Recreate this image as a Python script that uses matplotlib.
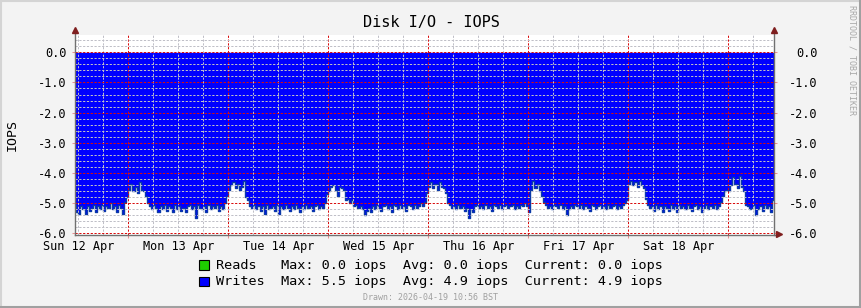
import numpy as np
import matplotlib
matplotlib.use("Agg")
import matplotlib.pyplot as plt
from matplotlib.ticker import MultipleLocator, FuncFormatter, NullFormatter
from matplotlib.patches import Rectangle

# writes (negated, iops), half-hour samples, hours counted from Sun 12 Apr 00:00
start_hour = 11.0
step_hours = 0.5

sun12 = [-5.05, -5.3, -5.35, -5.1, -5.2, -5.35, -5.1, -5.25,
         -5.15, -5.05, -5.3, -5.1, -5.2, -5.05, -5.25, -5.1,
         -5.15, -5.0, -5.2, -5.1, -5.3, -5.05, -5.15, -5.35,
         -4.95, -4.8]
mon13 = [-4.55, -4.35, -4.6, -4.45, -4.65, -4.3, -4.55, -4.6,
         -4.75, -5.0, -5.1, -5.2, -5.05, -5.15, -5.3, -5.1,
         -5.2, -5.05, -5.25, -5.1, -5.15, -5.3, -5.05, -5.2,
         -5.1, -5.25, -5.15, -5.3, -5.1, -5.05, -5.2, -5.1,
         -5.5, -5.05, -5.15, -5.2, -5.1, -5.3, -5.05, -5.2,
         -5.1, -5.15, -5.05, -5.25, -5.1, -5.2, -5.0, -4.75]
tue14 = [-4.55, -4.4, -4.3, -4.5, -4.35, -4.55, -4.45, -4.25,
         -4.8, -4.9, -5.1, -5.15, -5.05, -5.2, -5.1, -5.25,
         -5.1, -5.35, -5.05, -5.2, -5.15, -5.1, -5.25, -5.05,
         -5.35, -5.1, -5.2, -5.05, -5.15, -5.25, -5.1, -5.2,
         -5.05, -5.15, -5.3, -5.1, -5.2, -5.05, -5.15, -5.1,
         -5.25, -5.1, -5.05, -5.2, -5.1, -5.15, -5.0, -4.7]
wed15 = [-4.6, -4.45, -4.4, -4.55, -4.75, -4.45, -4.5, -4.55,
         -4.9, -4.85, -5.0, -4.9, -5.1, -5.05, -5.15, -5.1,
         -5.2, -5.4, -5.25, -5.15, -5.3, -5.1, -5.2, -5.05,
         -5.15, -5.25, -5.1, -5.05, -5.2, -5.1, -5.3, -5.05,
         -5.1, -5.2, -5.05, -5.15, -5.1, -5.25, -5.05, -5.1,
         -5.2, -5.05, -5.15, -5.1, -5.0, -5.1, -4.95, -4.65]
thu16 = [-4.45, -4.3, -4.5, -4.35, -4.55, -4.3, -4.45, -4.5,
         -4.65, -5.0, -5.05, -5.15, -5.1, -5.2, -5.05, -5.15,
         -5.1, -5.25, -5.15, -5.5, -5.2, -5.3, -5.1, -5.05,
         -5.15, -5.1, -5.2, -5.05, -5.15, -5.1, -5.25, -5.05,
         -5.1, -5.15, -5.05, -5.2, -5.1, -5.05, -5.15, -5.1,
         -5.05, -5.2, -5.1, -5.15, -5.05, -5.1, -5.0, -5.1]
fri17 = [-5.3, -4.55, -4.25, -4.5, -4.35, -4.6, -4.75, -4.95,
         -5.05, -5.15, -5.1, -5.2, -5.05, -5.1, -5.15, -5.05,
         -5.2, -5.1, -5.4, -5.2, -5.1, -5.15, -5.05, -5.1,
         -5.15, -5.05, -5.2, -5.1, -5.15, -5.25, -5.05, -5.1,
         -5.2, -5.1, -5.05, -5.15, -5.1, -5.2, -5.05, -5.15,
         -5.1, -5.05, -5.2, -5.1, -5.15, -5.05, -5.0, -4.9]
sat18 = [-4.35, -4.25, -4.4, -4.3, -4.45, -4.25, -4.4, -4.5,
         -4.85, -5.05, -5.15, -5.1, -5.25, -5.05, -5.2, -5.1,
         -5.3, -5.1, -5.15, -5.25, -5.05, -5.2, -5.1, -5.3,
         -5.05, -5.15, -5.1, -5.2, -5.05, -5.15, -5.25, -5.1,
         -5.05, -5.2, -5.1, -5.3, -5.15, -5.05, -5.2, -5.1,
         -5.15, -5.05, -5.2, -5.1, -4.95, -4.75, -4.6, -4.55]
sun19 = [-4.6, -4.4, -4.15, -4.35, -4.5, -4.1, -4.45, -4.6,
         -5.05, -5.1, -5.2, -5.15, -5.05, -5.4, -5.2, -5.1,
         -5.25, -5.05, -5.15, -5.1, -5.3, -4.9]

day_labels = ["Sun 12 Apr", "Mon 13 Apr", "Tue 14 Apr", "Wed 15 Apr",
              "Thu 16 Apr", "Fri 17 Apr", "Sat 18 Apr", "Sun 19 Apr"]
y_ticks = [0.0, -1.0, -2.0, -3.0, -4.0, -5.0, -6.0]

legend_rows = [
    ("Reads", "#1ecc00", "Reads   Max: 0.0 iops  Avg: 0.0 iops  Current: 0.0 iops"),
    ("Writes", "#0000ff", "Writes  Max: 5.5 iops  Avg: 4.9 iops  Current: 4.9 iops"),
]

writes = np.array(sun12 + mon13 + tue14 + wed15 + thu16 + fri17 + sat18 + sun19)
hours = start_hour + step_hours * np.arange(len(writes) + 1)
vals = np.append(writes, writes[-1])

mono = "DejaVu Sans Mono"
plt.rcParams["font.family"] = mono

W, H = 862, 308
fig = plt.figure(figsize=(W / 100, H / 100), dpi=100, facecolor="#f3f3f3")

# frame shading like rrdtool
fig.add_artist(plt.Line2D([0, 1], [1 - 1 / H, 1 - 1 / H], color="#d4d4d4", lw=1.5, transform=fig.transFigure))
fig.add_artist(plt.Line2D([1 / W, 1 / W], [0, 1], color="#d4d4d4", lw=1.5, transform=fig.transFigure))
fig.add_artist(plt.Line2D([0, 1], [1.5 / H, 1.5 / H], color="#a0a0a0", lw=2.2, transform=fig.transFigure))
fig.add_artist(plt.Line2D([1 - 1.5 / W, 1 - 1.5 / W], [0, 1], color="#a0a0a0", lw=2.2, transform=fig.transFigure))

ax_l, ax_r, ax_t, ax_b = 75, 774, 35, 235.3
ax = fig.add_axes([ax_l / W, 1 - ax_b / H, (ax_r - ax_l) / W, (ax_b - ax_t) / H])
ax.set_facecolor("white")

ax.fill_between(hours, 0, vals, step="post", color="#0000ff", linewidth=0, zorder=1)
ax.step(hours, vals, where="post", color="#0b3aa8", linewidth=1.0, zorder=1.5)

ax.set_xlim(11.2, 179.0)
ax.set_ylim(-6.066, 0.573)

ax.xaxis.set_major_locator(MultipleLocator(24))
ax.xaxis.set_minor_locator(MultipleLocator(6))
ax.xaxis.set_major_formatter(NullFormatter())


def day_fmt(v, pos):
    h = int(round(v))
    if h % 24 == 12 and 0 <= h // 24 < len(day_labels):
        return day_labels[h // 24]
    return ""


ax.xaxis.set_minor_formatter(FuncFormatter(day_fmt))
ax.yaxis.set_major_locator(MultipleLocator(1.0))
ax.yaxis.set_minor_locator(MultipleLocator(0.2))
ax.yaxis.set_major_formatter(FuncFormatter(lambda v, p: f"{v + 0.0:.1f}"))

red = (0.85, 0.05, 0.05, 0.42)
grey = (0.75, 0.75, 0.78, 0.5)
dash = (0, (2.2, 1.6))
ax.set_axisbelow(False)
ax.grid(which="major", color=red, linestyle=dash, linewidth=0.72)
ax.grid(which="minor", color=grey, linestyle=dash, linewidth=0.72)

ax.tick_params(axis="x", which="major", length=2, color=red, width=0.75)
ax.tick_params(axis="x", which="minor", length=0, labelsize=8.6, pad=3.5)
ax.tick_params(axis="y", which="major", length=2, color=red, width=0.75, labelsize=8.6, pad=4.3)
ax.tick_params(axis="y", which="minor", length=0)

for s in ax.spines.values():
    s.set_visible(False)

# right axis labels
ax2 = ax.twinx()
ax2.set_ylim(ax.get_ylim())
ax2.set_yticks(y_ticks)
ax2.yaxis.set_major_formatter(FuncFormatter(lambda v, p: f"{v + 0.0:.1f}"))
ax2.tick_params(axis="y", length=2, color=red, width=0.75, labelsize=8.6, pad=29.5)
plt.setp(ax2.get_yticklabels(), ha="right")
for s in ax2.spines.values():
    s.set_visible(False)

# axis lines with arrows
axis_col = "#707070"
arrow_col = "#7f1f1f"
hgt = ax_b - ax_t
wid = ax_r - ax_l
ax.plot([0, 0], [0, 1 + 3 / hgt], color=axis_col, lw=1, transform=ax.transAxes, clip_on=False, zorder=5)
ax.plot([1, 1], [0, 1 + 3 / hgt], color=axis_col, lw=1, transform=ax.transAxes, clip_on=False, zorder=5)
ax.plot([0, 1 + 4 / wid], [0, 0], color=axis_col, lw=1, transform=ax.transAxes, clip_on=False, zorder=5)
for px, py, m in [(0, 1 + 4.5 / hgt, "^"), (1, 1 + 4.5 / hgt, "^"), (1 + 5 / wid, 0.005, ">")]:
    ax.plot([px], [py], marker=m, ms=4.5, color=arrow_col, mec=arrow_col,
            transform=ax.transAxes, clip_on=False, zorder=6)

fig.text(431 / W, 1 - 22 / H, "Disk I/O - IOPS", ha="center", va="center", fontsize=11)
fig.text(12 / W, 1 - 135 / H, "IOPS", ha="center", va="center", rotation=90, fontsize=9.6)
fig.text(852.5 / W, 1 - 60 / H, "RRDTOOL / TOBI OETIKER", ha="center", va="center",
         rotation=270, fontsize=6, color="#a8a8a8")
fig.text(431 / W, 1 - 297 / H, "Drawn: 2026-04-19 10:56 BST", ha="center", va="center",
         fontsize=6, color="#a0a0a0")

for i, (name, col, txt) in enumerate(legend_rows):
    yc = 265 + 16.3 * i
    fig.add_artist(Rectangle((199.5 / W, 1 - (yc + 4.7) / H), 9.5 / W, 9.5 / H,
                             facecolor=col, edgecolor="black", lw=0.8, transform=fig.transFigure))
    fig.text(216 / W, 1 - yc / H, txt, ha="left", va="center", fontsize=9.7)

fig.savefig("out.png", dpi=100, facecolor=fig.get_facecolor())
